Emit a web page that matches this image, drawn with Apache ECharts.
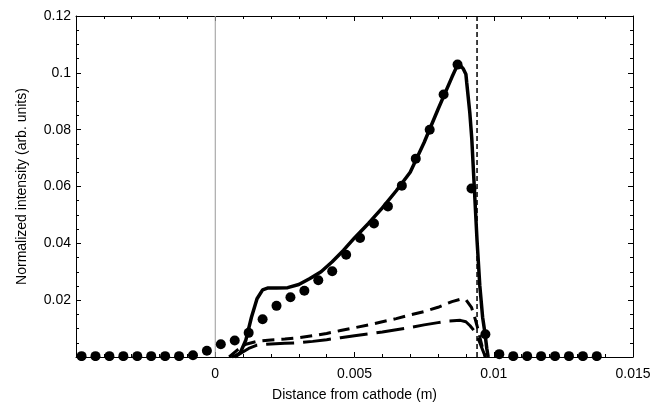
<!DOCTYPE html>
<html>
<head>
<meta charset="utf-8">
<script src="https://cdn.jsdelivr.net/npm/echarts@6/dist/echarts.min.js"></script>
<style>html,body{margin:0;padding:0;background:#fff}#c{width:666px;height:407px}</style>
</head>
<body>
<div id="c"></div>
<script>
// ---- data ----
const xAxisTicks = [-0.005, 0, 0.005, 0.01, 0.015];
const yAxisTicks = [0, 0.02, 0.04, 0.06, 0.08, 0.1, 0.12];

const solidX = [0.0007, 0.0009, 0.0011, 0.0013, 0.0015, 0.0017, 0.0019, 0.0022, 0.0026, 0.003, 0.0034, 0.0038, 0.0042, 0.0046, 0.005, 0.0055, 0.006, 0.0065, 0.007, 0.0075, 0.008, 0.0085, 0.0087, 0.0088, 0.0089, 0.009, 0.00903, 0.00914, 0.00921, 0.0093, 0.0094, 0.0095, 0.0096, 0.00968, 0.00975, 0.0098];
const solidY = [0, 0.0015, 0.006, 0.014, 0.0205, 0.0236, 0.0243, 0.0243, 0.0244, 0.0255, 0.0276, 0.030, 0.0335, 0.0375, 0.0419, 0.047, 0.0525, 0.0585, 0.065, 0.0755, 0.0872, 0.0985, 0.1028, 0.1026, 0.1015, 0.0995, 0.0965, 0.086, 0.077, 0.06, 0.041, 0.025, 0.014, 0.0087, 0.003, 0];

const shortDashX = [0.0005, 0.0008, 0.0011, 0.0015, 0.002, 0.0025, 0.003, 0.0035, 0.004, 0.0045, 0.005, 0.0055, 0.006, 0.0065, 0.007, 0.0075, 0.008, 0.0085, 0.0088, 0.009, 0.0092, 0.0093, 0.0094, 0.0095, 0.0096, 0.0097];
const shortDashY = [0, 0.0025, 0.0045, 0.0055, 0.006, 0.0063, 0.0068, 0.0075, 0.0083, 0.0093, 0.0103, 0.0113, 0.0124, 0.0135, 0.0148, 0.016, 0.0175, 0.0195, 0.0203, 0.0202, 0.0175, 0.0145, 0.011, 0.007, 0.003, 0];

const longDashX = [0.0006, 0.0009, 0.0012, 0.0015, 0.002, 0.0025, 0.003, 0.0035, 0.004, 0.0045, 0.005, 0.0055, 0.006, 0.0065, 0.007, 0.0075, 0.008, 0.0084, 0.0088, 0.009, 0.00915, 0.0093, 0.0094, 0.0095, 0.0096, 0.0097];
const longDashY = [0, 0.0012, 0.003, 0.0042, 0.0046, 0.0048, 0.005, 0.0055, 0.0061, 0.0068, 0.0075, 0.0081, 0.0088, 0.0096, 0.0104, 0.0113, 0.0121, 0.0127, 0.0129, 0.0124, 0.011, 0.0092, 0.0075, 0.005, 0.0025, 0];

const dotX = [-0.0048, -0.0043, -0.0038, -0.0033, -0.0028, -0.0023, -0.0018, -0.0013, -0.0008, -0.0003, 0.0002, 0.0007, 0.0012, 0.0017, 0.0022, 0.0027, 0.0032, 0.0037, 0.0042, 0.0047, 0.0052, 0.0057, 0.0062, 0.0067, 0.0072, 0.0077, 0.0082, 0.0087, 0.0092, 0.0097, 0.0102, 0.0107, 0.0112, 0.0117, 0.0122, 0.0127, 0.0132, 0.0137];
const dotY = [0.0003, 0.0003, 0.0003, 0.0003, 0.0003, 0.0003, 0.0003, 0.0003, 0.0006, 0.0022, 0.0045, 0.0058, 0.0085, 0.0133, 0.018, 0.021, 0.0233, 0.027, 0.0302, 0.036, 0.0419, 0.047, 0.053, 0.0603, 0.0698, 0.080, 0.0924, 0.1029, 0.0593, 0.008, 0.001, 0.0003, 0.0003, 0.0003, 0.0003, 0.0003, 0.0003, 0.0003];

const cathodeX = 0;
const anodeX = 0.0094;

// ---- chart ----
const zip = (xs, ys) => xs.map((x, i) => [x, ys[i]]);
const fmt = v => String(parseFloat(v.toFixed(4)));
const FONT = '"Liberation Sans", Arial, sans-serif';

const chart = echarts.init(document.getElementById('c'), null, {renderer: 'canvas'});
const gridL = 76, gridR = 33, gridT = 16, gridB = 47;

const axisCommon = {
  axisLine: {show: true, onZero: false, lineStyle: {color: '#000', width: 1}},
  axisTick: {show: true, inside: true, length: 5, lineStyle: {color: '#000', width: 1}},
  minorTick: {show: true, length: 3, lineStyle: {color: '#000', width: 1}},
  splitLine: {show: false},
  minorSplitLine: {show: false}
};

const xMin = xAxisTicks[0], xMax = xAxisTicks[xAxisTicks.length - 1];
const yMin = yAxisTicks[0], yMax = yAxisTicks[yAxisTicks.length - 1];

chart.setOption({
  animation: false,
  backgroundColor: '#fff',
  grid: {left: gridL, right: gridR, top: gridT, bottom: gridB, containLabel: false},
  xAxis: [
    Object.assign({}, axisCommon, {
      type: 'value', min: xMin, max: xMax, interval: 0.005, position: 'bottom',
      minorTick: Object.assign({}, axisCommon.minorTick, {splitNumber: 5}),
      name: 'Distance from cathode (m)', nameLocation: 'middle', nameGap: 31,
      nameTextStyle: {fontFamily: FONT, fontSize: 14, color: '#000'},
      axisLabel: {fontFamily: FONT, fontSize: 14, color: '#000', margin: 10,
        formatter: v => (Math.abs(v - xMin) < 1e-9 ? '' : fmt(v))}
    }),
    Object.assign({}, axisCommon, {
      type: 'value', min: xMin, max: xMax, interval: 0.005, position: 'top',
      minorTick: Object.assign({}, axisCommon.minorTick, {splitNumber: 5}),
      axisLabel: {show: false}
    })
  ],
  yAxis: [
    Object.assign({}, axisCommon, {
      type: 'value', min: yMin, max: yMax, interval: 0.02, position: 'left',
      minorTick: Object.assign({}, axisCommon.minorTick, {splitNumber: 4}),
      name: 'Normalized intensity (arb. units)', nameLocation: 'middle', nameGap: 47,
      nameTextStyle: {fontFamily: FONT, fontSize: 14, color: '#000'},
      axisLabel: {fontFamily: FONT, fontSize: 14, color: '#000', margin: 5,
        formatter: v => (Math.abs(v) < 1e-9 ? '' : fmt(v))}
    }),
    Object.assign({}, axisCommon, {
      type: 'value', min: yMin, max: yMax, interval: 0.02, position: 'right',
      minorTick: Object.assign({}, axisCommon.minorTick, {splitNumber: 4}),
      axisLabel: {show: false}
    })
  ],
  series: [
    {
      type: 'line', name: 'cathode', xAxisIndex: 0, yAxisIndex: 0, showSymbol: false, silent: true,
      data: [[cathodeX, yMin], [cathodeX, yMax]],
      lineStyle: {color: '#999', width: 1}, z: 1
    },
    {
      type: 'line', name: 'anode', xAxisIndex: 0, yAxisIndex: 0, showSymbol: false, silent: true,
      data: [[anodeX, yMin], [anodeX, yMax]],
      lineStyle: {color: '#000', width: 1.5, type: [5, 3]}, z: 2
    },
    {
      type: 'line', name: 'model total', showSymbol: false, data: zip(solidX, solidY),
      lineStyle: {color: '#000', width: 3.5}, z: 3
    },
    {
      type: 'line', name: 'short dashed', showSymbol: false, data: zip(shortDashX, shortDashY),
      lineStyle: {color: '#000', width: 3, type: [12, 7]}, z: 3
    },
    {
      type: 'line', name: 'long dashed', showSymbol: false, data: zip(longDashX, longDashY),
      lineStyle: {color: '#000', width: 3, type: [28, 9]}, z: 3
    },
    {
      type: 'scatter', name: 'measured', data: zip(dotX, dotY),
      symbol: 'circle', symbolSize: 10, itemStyle: {color: '#000', opacity: 1}, z: 4
    }
  ],
  graphic: {
    elements: [
      {type: 'rect', zlevel: 1, z: 100, silent: true,
       shape: {x: gridL + 1, y: 407 - gridB + 1, width: 666 - gridL - gridR - 2, height: 6},
       style: {fill: '#fff'}}
    ]
  }
});
</script>
</body>
</html>
